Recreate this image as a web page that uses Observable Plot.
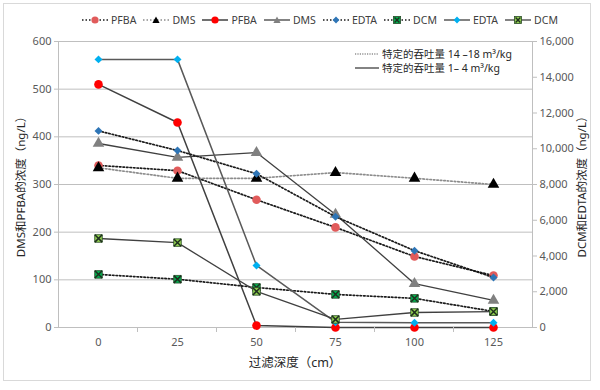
<!DOCTYPE html>
<html><head><meta charset="utf-8">
<script src="https://cdn.jsdelivr.net/npm/d3@7"></script>
<script src="https://cdn.jsdelivr.net/npm/@observablehq/plot@0.6"></script>
<style>
body{margin:0;background:#fff;font-family:"Noto Sans","Noto Sans CJK SC",sans-serif;}
#wrap{position:relative;width:600px;height:390px;}
#frame{position:absolute;left:3px;top:3px;width:588px;height:378px;border:1px solid #d9d9d9;box-sizing:border-box;pointer-events:none}
#legend{position:absolute;top:13px;left:82px;width:476px;display:flex;justify-content:space-between;font-size:10.5px;color:#404040;line-height:14px}
#legend .it{display:flex;align-items:center;gap:3px;white-space:nowrap}
#note{position:absolute;left:355px;top:47px;width:172px;background:#fff;font-size:10.5px;color:#262626;line-height:14px}
#note .row{display:flex;align-items:center;gap:3px;white-space:nowrap}
#chart{position:absolute;left:0;top:0}
</style></head>
<body>
<div id="wrap">
  <div id="chart"></div>
  <div id="legend"></div>
  <div id="note"></div>
  <div id="frame"></div>
</div>
<script>
// ---- data ----
const depth = [0, 25, 50, 75, 100, 125];
const pfbaHigh = [340, 329, 268, 210, 149, 109];   // ng/L, left axis, 14–18 m3/kg
const dmsHigh  = [335, 313, 313, 325, 313, 300];
const pfbaLow  = [510, 430, 4, 0, 0, 0];           // 1–4 m3/kg
const dmsLow   = [386, 357, 367, 237, 92, 57];
const edtaHigh = [11000, 9900, 8600, 6200, 4300, 2800]; // right axis
const dcmHigh  = [2970, 2700, 2240, 1850, 1630, 900];
const edtaLow  = [15000, 15000, 3470, 300, 270, 270];
const dcmLow   = [4980, 4750, 2020, 450, 840, 890];
const leftTicks = [0, 100, 200, 300, 400, 500, 600];
const rightTicks = [0, 2000, 4000, 6000, 8000, 10000, 12000, 14000, 16000];
const leftMax = 600, rightMax = 16000;

const series = [
  {name:"PFBA", vals:pfbaHigh, axis:"L", dash:true,  line:"#1a1a1a", w:1.7, sym:"circle",   fill:"#E15B5B", r:4.3},
  {name:"DMS",  vals:dmsHigh,  axis:"L", dash:true,  line:"#8c8c8c", w:1.7, sym:"triangle", fill:"#000000", r:4.3},
  {name:"PFBA", vals:pfbaLow,  axis:"L", dash:false, line:"#404040", w:1.5, sym:"circle",   fill:"#FF0000", r:4.3},
  {name:"DMS",  vals:dmsLow,   axis:"L", dash:false, line:"#404040", w:1.3, sym:"triangle", fill:"#808080", r:4.3},
  {name:"EDTA", vals:edtaHigh, axis:"R", dash:true,  line:"#1a1a1a", w:1.7, sym:"diamond2", fill:"#2E75B6", r:3.6},
  {name:"DCM",  vals:dcmHigh,  axis:"R", dash:true,  line:"#1a1a1a", w:1.7, sym:"square",   fill:"#00B050", r:4.3, x:true},
  {name:"EDTA", vals:edtaLow,  axis:"R", dash:false, line:"#595959", w:1.5, sym:"diamond2", fill:"#00B0F0", r:3.6},
  {name:"DCM",  vals:dcmLow,   axis:"R", dash:false, line:"#404040", w:1.3, sym:"square",   fill:"#92D050", r:4.3, x:true}
];

const toL = v => v * leftMax / rightMax;
const marks = [
  Plot.gridY(leftTicks.slice(1), {stroke:"#bfbfbf", strokeOpacity:1}),
  Plot.frame({stroke:"#bfbfbf"}),
  Plot.axisY(leftTicks, {anchor:"left", tickSize:4, tickPadding:3, label:null, stroke:"#bfbfbf"}),
  Plot.axisY(rightTicks.map(toL), {anchor:"right", tickSize:4, tickPadding:3, label:null, stroke:"#bfbfbf",
     tickFormat: d => d3.format(",")(Math.round(d * rightMax / leftMax))}),
  Plot.axisX(depth, {tickSize:0, tickPadding:11, label:null})
];
for (const s of series) {
  const data = depth.map((x, i) => ({x, v: s.vals[i]}));
  const y = s.axis === "L" ? (d => d.v) : (d => toL(d.v));
  marks.push(Plot.line(data, {x:"x", y, stroke:s.line, strokeWidth: s.w,
     strokeDasharray: s.dash ? "1.5,2" : null}));
  marks.push(Plot.dot(data, {x:"x", y, symbol:s.sym, r:s.r, fill:s.fill,
     stroke: s.x ? "#2b4d2b" : "none", strokeWidth:0.8}));
  if (s.x) marks.push(Plot.dot(data, {x:"x", y, symbol:"times", r:3.4, stroke:"#1f2f1f", strokeWidth:1.5}));
}

const plot = Plot.plot({
  width: 600, height: 390,
  marginLeft: 58, marginRight: 68, marginTop: 41, marginBottom: 63,
  x: {type:"point", domain: depth, padding: 0.5},
  y: {domain: [0, leftMax]},
  style: {fontFamily:'"Noto Sans","Noto Sans CJK SC",sans-serif', fontSize:"11px", color:"#595959", background:"transparent"},
  marks
});
document.getElementById("chart").appendChild(plot);

// category boundary ticks and axis titles
const svg = d3.select(plot);
const xs = plot.scale("x");
const pos = depth.map(d => xs.apply(d));
const step = pos[1] - pos[0];
const y0 = plot.scale("y").apply(0);
const g = svg.append("g");
pos.slice(0, -1).forEach(p => {
  g.append("line").attr("x1", p + step/2).attr("x2", p + step/2).attr("y1", y0).attr("y2", y0 + 5)
   .attr("stroke", "#bfbfbf");
});
const midY = (41 + 327) / 2;
svg.append("text").attr("transform", `translate(22,${midY}) rotate(-90)`).attr("text-anchor","middle")
  .attr("dominant-baseline","middle").attr("fill","#262626").style("font-size","11.5px").text("DMS和PFBA的浓度（ng/L）");
svg.append("text").attr("transform", `translate(583,${midY}) rotate(-90)`).attr("text-anchor","middle")
  .attr("dominant-baseline","middle").attr("fill","#262626").style("font-size","11.5px").text("DCM和EDTA的浓度（ng/L）");
svg.append("text").attr("x", (58 + 532) / 2).attr("y", 364).attr("text-anchor","middle")
  .attr("dominant-baseline","middle").attr("fill","#262626").style("font-size","12.5px").text("过滤深度（cm）");

// legend glyphs
function glyph(s, w) {
  const symPath = {
    circle: `<circle cx="${w/2}" cy="5" r="3.6" fill="${s.fill}"/>`,
    triangle: `<path d="M${w/2},1.5 L${w/2+3.6},8 L${w/2-3.6},8Z" fill="${s.fill}"/>`,
    diamond2: `<path d="M${w/2},1.6 L${w/2+3.4},5 L${w/2},8.4 L${w/2-3.4},5Z" fill="${s.fill}"/>`,
    square: `<rect x="${w/2-3.6}" y="1.4" width="7.2" height="7.2" fill="${s.fill}" stroke="#2b4d2b" stroke-width="0.8"/><path d="M${w/2-2.4},2.6 L${w/2+2.4},7.4 M${w/2+2.4},2.6 L${w/2-2.4},7.4" stroke="#1f2f1f" stroke-width="1.4"/>`
  }[s.sym];
  const dash = s.dash ? `stroke-dasharray="1.5,2"` : "";
  return `<svg width="${w}" height="10"><line x1="0" x2="${w}" y1="5" y2="5" stroke="${s.line}" stroke-width="${Math.min(s.w,1.6)}" ${dash}/>${symPath}</svg>`;
}
const leg = document.getElementById("legend");
series.forEach(s => {
  const d = document.createElement("div");
  d.className = "it";
  d.innerHTML = glyph(s, 26) + `<span>${s.name}</span>`;
  leg.appendChild(d);
});
const note = document.getElementById("note");
note.innerHTML =
  `<div class="row"><svg width="24" height="8"><line x1="0" x2="24" y1="4" y2="4" stroke="#595959" stroke-width="1.2" stroke-dasharray="1.2,1.2"/></svg><span>特定的吞吐量 14 –18 m³/kg</span></div>` +
  `<div class="row"><svg width="24" height="8"><line x1="0" x2="24" y1="4" y2="4" stroke="#404040" stroke-width="1.3"/></svg><span>特定的吞吐量 1– 4 m³/kg</span></div>`;
</script>
</body></html>
